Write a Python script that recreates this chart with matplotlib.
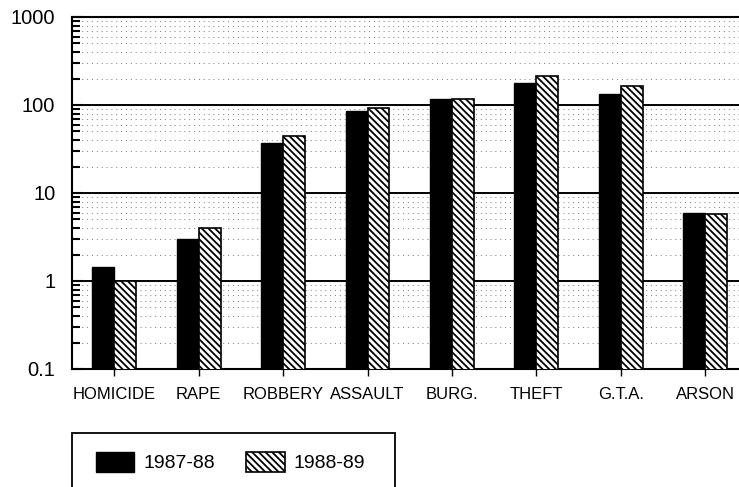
import matplotlib
matplotlib.use("Agg")
import matplotlib.pyplot as plt
import matplotlib.ticker as mticker
from matplotlib.patches import Rectangle
import numpy as np

plt.rcParams['font.family'] = ['Liberation Sans', 'DejaVu Sans']
plt.rcParams['hatch.linewidth'] = 1.3

categories = ["HOMICIDE", "RAPE", "ROBBERY", "ASSAULT", "BURG.", "THEFT", "G.T.A.", "ARSON"]
series_names = ["1987-88", "1988-89"]
values_8788 = [1.45, 3.0, 37, 85, 116, 178, 133, 5.9]
values_8889 = [1.0, 4.0, 44, 92, 118, 214, 164, 5.7]
ytick_vals = [0.1, 1, 10, 100, 1000]
ytick_labels = ["0.1", "1", "10", "100", "1000"]

fig = plt.figure(figsize=(7.39, 4.87), dpi=100)
ax = fig.add_axes([72/739, 1-369/487, 1.0-72/739, (369-17)/487])

x = np.arange(len(categories))
w = 0.26
ax.bar(x - w/2, values_8788, w, color='black', edgecolor='black', linewidth=1, zorder=3, label=series_names[0])
ax.bar(x + w/2, values_8889, w, color='white', edgecolor='black', hatch='\\\\\\\\\\', linewidth=1.2, zorder=3, label=series_names[1])

ax.set_yscale('log')
ax.set_ylim(0.1, 1000)
ax.set_xlim(-0.5, 7.4)
ax.set_yticks(ytick_vals)
ax.set_yticklabels(ytick_labels)
ax.yaxis.set_minor_locator(mticker.LogLocator(base=10, subs=np.arange(2, 10)))
ax.yaxis.set_minor_formatter(mticker.NullFormatter())
ax.set_xticks(x)
ax.set_xticklabels(categories)

ax.grid(axis='y', which='major', color='black', linewidth=1.4, zorder=1)
ax.grid(axis='y', which='minor', color='#777777', linewidth=0.7, linestyle=(0, (1, 4)), zorder=1)
ax.set_axisbelow(True)

for s in ['left', 'bottom', 'top']:
    ax.spines[s].set_linewidth(1.5)
ax.spines['right'].set_visible(False)

ax.tick_params(axis='y', which='major', direction='in', length=8, width=1.5, labelsize=14.5, pad=12)
ax.tick_params(axis='y', which='minor', direction='in', length=6, width=1.5)
ax.tick_params(axis='x', which='major', direction='out', length=5, width=1, labelsize=12, pad=8)

# legend frame
fig.patches.append(Rectangle((72/739, -0.01), (395-72)/739, (487-433)/487 + 0.01, transform=fig.transFigure,
                             fill=False, edgecolor='black', linewidth=1.3, clip_on=False))
h, l = ax.get_legend_handles_labels()
fig.legend(h, l, loc='center left', bbox_to_anchor=(78/739, 1-462/487), ncol=2, frameon=False,
           fontsize=14, handlelength=2.0, handleheight=1.2, columnspacing=1.6, handletextpad=0.45)

fig.savefig("out.png", dpi=100)
